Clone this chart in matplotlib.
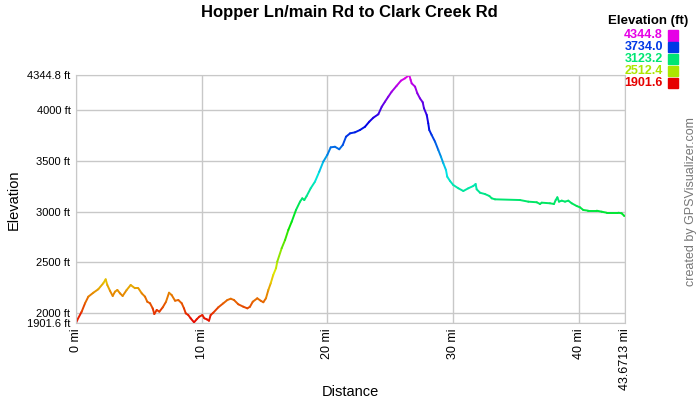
import colorsys
import numpy as np
import matplotlib.pyplot as plt
from matplotlib.collections import LineCollection
from matplotlib.patches import Rectangle

plt.rcParams['font.family'] = ['Liberation Sans', 'DejaVu Sans']

# Track profile (distance in miles, elevation in feet)
distance_mi = [0.00, 0.10, 0.45, 0.72, 0.98, 1.38, 1.77, 2.17, 2.36, 2.49,
               2.70, 2.92, 3.10, 3.29, 3.50, 3.71, 4.03, 4.35, 4.69, 4.96,
               5.23, 5.49, 5.67, 5.89, 6.10, 6.23, 6.42, 6.63, 6.90, 7.16,
               7.40, 7.61, 7.88, 8.14, 8.41, 8.59, 8.73, 8.93, 9.12, 9.39,
               9.60, 9.81, 10.05, 10.21, 10.40, 10.58, 10.71, 10.92, 11.32, 11.72,
               12.04, 12.31, 12.57, 12.91, 13.31, 13.63, 13.84, 14.06, 14.42, 14.69,
               14.90, 15.11, 15.30, 15.49, 15.69, 15.91, 16.01, 16.36, 16.63, 16.89,
               17.16, 17.50, 17.82, 18.00, 18.16, 18.35, 18.67, 19.01, 19.35, 19.67,
               19.99, 20.26, 20.60, 20.94, 21.22, 21.48, 21.80, 22.19, 22.59, 22.99,
               23.33, 23.65, 24.05, 24.32, 24.58, 24.84, 25.11, 25.51, 25.85, 26.17,
               26.51, 26.62, 26.70, 26.97, 27.15, 27.36, 27.58, 27.68, 27.90, 28.02,
               28.10, 28.29, 28.56, 28.82, 29.03, 29.22, 29.43, 29.53, 29.75, 30.01,
               30.41, 30.81, 31.21, 31.60, 31.79, 31.87, 32.14, 32.53, 32.88, 33.07,
               33.33, 35.32, 35.98, 36.65, 36.91, 37.05, 37.70, 38.02, 38.16, 38.29,
               38.42, 38.64, 38.90, 39.16, 39.43, 39.83, 40.09, 40.35, 40.75, 41.42,
               41.82, 42.21, 43.14, 43.41, 43.59, 43.6713]
elevation_ft = [1901.6, 1931, 2013, 2096, 2161, 2200, 2234, 2293, 2332, 2276,
                2220, 2168, 2210, 2227, 2194, 2168, 2227, 2276, 2244, 2244,
                2194, 2161, 2111, 2096, 2046, 1990, 2030, 2013, 2056, 2111,
                2200, 2177, 2121, 2128, 2096, 2046, 1997, 1980, 1948, 1908,
                1938, 1964, 1980, 1948, 1938, 1924, 1980, 2003, 2056, 2096,
                2128, 2141, 2128, 2086, 2062, 2046, 2062, 2111, 2145, 2121,
                2106, 2145, 2227, 2293, 2375, 2441, 2506, 2638, 2719, 2818,
                2900, 3015, 3097, 3130, 3113, 3153, 3229, 3294, 3392, 3491,
                3557, 3632, 3638, 3613, 3655, 3737, 3770, 3780, 3803, 3835,
                3885, 3924, 3958, 4032, 4082, 4131, 4180, 4239, 4289, 4312,
                4344.8, 4296, 4263, 4230, 4165, 4115, 4076, 4017, 3951, 3869,
                3803, 3754, 3688, 3606, 3540, 3475, 3409, 3343, 3301, 3261,
                3229, 3202, 3229, 3251, 3271, 3219, 3185, 3172, 3153, 3130,
                3120, 3113, 3097, 3091, 3074, 3087, 3081, 3074, 3113, 3140,
                3097, 3107, 3097, 3107, 3081, 3054, 3041, 3015, 3008, 3008,
                2998, 2988, 2988, 2982, 2959, 2955]

y_ticks = [1901.6, 2000, 2500, 3000, 3500, 4000, 4344.8]
y_tick_labels = ['1901.6 ft', '2000 ft', '2500 ft', '3000 ft', '3500 ft', '4000 ft', '4344.8 ft']
x_ticks = [0, 10, 20, 30, 40, 43.6713]
x_tick_labels = ['0 mi', '10 mi', '20 mi', '30 mi', '40 mi', '43.6713 mi']
legend_values = [4344.8, 3734.0, 3123.2, 2512.4, 1901.6]

lo, hi = min(y_ticks), max(y_ticks)


def elev_color(v):
    # red -> yellow -> green -> cyan -> blue -> magenta
    frac = (v - lo) / (hi - lo)
    return colorsys.hsv_to_rgb(frac * 300 / 360, 1.0, 0.9)


fig = plt.figure(figsize=(7, 4), dpi=100)
ax = fig.add_axes([76 / 700, 1 - 323 / 400, 549 / 700, 248 / 400])

x = np.array(distance_mi)
y = np.array(elevation_ft)
pts = np.column_stack([x, y]).reshape(-1, 1, 2)
segs = np.concatenate([pts[:-1], pts[1:]], axis=1)
cols = [elev_color((a + b) / 2) for a, b in zip(y[:-1], y[1:])]
ax.add_collection(LineCollection(segs, colors=cols, linewidths=1.4, capstyle='round'))

ax.set_xlim(0, 43.6713)
ax.set_ylim(lo, hi)
ax.set_xticks(x_ticks)
ax.set_xticklabels(x_tick_labels, rotation=90, fontsize=9)
ax.set_yticks(y_ticks)
ax.set_yticklabels(y_tick_labels, fontsize=8)
ax.tick_params(length=0, pad=4)
ax.grid(True, color='#c8c8c8', linewidth=1)
ax.set_axisbelow(True)
for s in ax.spines.values():
    s.set_color('#c8c8c8')

fig.text(349 / 700, 1 - 13 / 400, 'Hopper Ln/main Rd to Clark Creek Rd',
         ha='center', va='center', fontsize=12, fontweight='bold')
fig.text(14 / 700, 1 - 200 / 400, 'Elevation', rotation=90, ha='center', va='center', fontsize=10.5)
fig.text(350 / 700, 1 - 392 / 400, 'Distance', ha='center', va='center', fontsize=10.5)

# elevation legend, top right
fig.text(688 / 700, 1 - 21 / 400, 'Elevation (ft)', ha='right', va='center',
         fontsize=9.5, fontweight='bold')
for i, v in enumerate(legend_values):
    yc = 1 - (35.5 + i * 11.8) / 400
    c = elev_color(v)
    fig.text(663 / 700, yc, f'{v:.1f}', ha='right', va='center', fontsize=9,
             fontweight='bold', color=c)
    fig.patches.append(Rectangle((668 / 700, yc - 5 / 400), 10 / 700, 10 / 400,
                                 transform=fig.transFigure, color=c))

fig.text(691 / 700, 1 - 202 / 400, 'created by GPSVisualizer.com', rotation=90,
         ha='center', va='center', fontsize=9, color='#777777')

fig.savefig('out.png', dpi=100)
